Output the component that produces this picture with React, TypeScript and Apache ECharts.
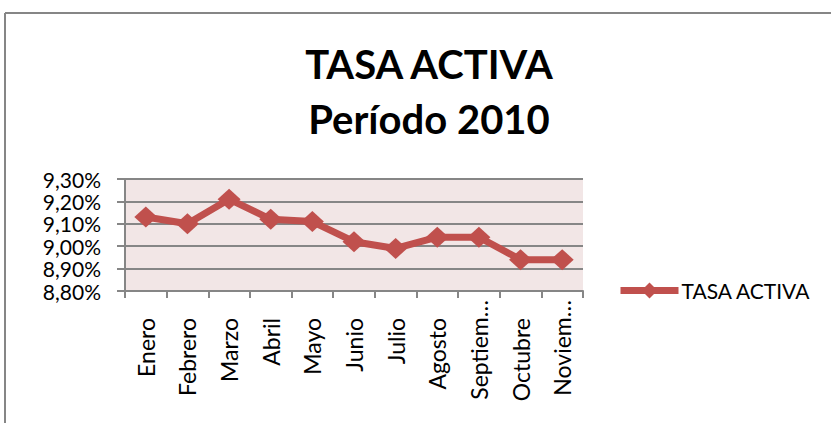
import React, { useEffect, useRef } from "react";
import * as echarts from "echarts";

const categories = ["Enero", "Febrero", "Marzo", "Abril", "Mayo", "Junio", "Julio", "Agosto", "Septiem…", "Octubre", "Noviem…"];
const tasaActiva = [9.13, 9.10, 9.21, 9.12, 9.11, 9.02, 8.99, 9.04, 9.04, 8.94, 8.94];
const seriesName = "TASA ACTIVA";
const titleLines = ["TASA ACTIVA", "Período 2010"];

const FONT = "Lato, 'Open Sans', sans-serif";

export default function App() {
  const ref = useRef<HTMLDivElement>(null);
  useEffect(() => {
    document.body.style.margin = "0";
    const chart = echarts.init(ref.current!, null, { renderer: "svg" });
    chart.setOption({
      animation: false,
      backgroundColor: "#ffffff",
      textStyle: { fontFamily: FONT },
      title: {
        text: titleLines.join("\n"),
        left: 424,
        textAlign: "center",
        top: 31,
        textStyle: { fontFamily: FONT, fontSize: 40, fontWeight: "bold", color: "#000", lineHeight: 55 },
      },
      legend: {
        data: [seriesName],
        left: 617,
        top: 280,
        padding: 0,
        itemWidth: 58,
        itemHeight: 20,
        itemGap: 4,
        lineStyle: { width: 7 },
        textStyle: { fontFamily: FONT, fontSize: 21, color: "#000", padding: [0, 0, 0, -2] },
      },
      grid: {
        left: 125,
        right: 248,
        top: 179,
        bottom: 132,
        show: true,
        backgroundColor: "#f2e6e6",
        borderWidth: 0,
      },
      xAxis: {
        type: "category",
        data: categories,
        boundaryGap: true,
        axisLine: { lineStyle: { color: "#868686", width: 2 } },
        axisTick: { show: true, length: 7, lineStyle: { color: "#868686", width: 2 } },
        axisLabel: {
          rotate: 90,
          margin: 9,
          interval: 0,
          fontSize: 23,
          color: "#000",
          fontFamily: FONT,
          formatter: (v: string) => (v.endsWith("…") ? `{t|${v}}` : `{n|${v}}`),
          rich: {
            n: { fontSize: 23, fontFamily: FONT, color: "#000", padding: [0, 18, 0, 0] },
            t: { fontSize: 23, fontFamily: FONT, color: "#000", padding: [0, 0, 0, 0] },
          },
        },
      },
      yAxis: {
        type: "value",
        min: 8.8,
        max: 9.3,
        interval: 0.1,
        axisLine: { show: true, lineStyle: { color: "#868686", width: 2 } },
        axisTick: { show: true, length: 8, lineStyle: { color: "#868686", width: 2 } },
        splitLine: { lineStyle: { color: "#868686", width: 2 } },
        axisLabel: {
          fontSize: 21,
          color: "#000",
          margin: 24,
          fontFamily: FONT,
          lineHeight: 20,
          formatter: (v: number) => v.toFixed(2).replace(".", ",") + "%",
        },
      },
      graphic: [
        { type: "line", shape: { x1: 5, y1: 13, x2: 831, y2: 13 }, style: { stroke: "#868686", lineWidth: 2 } },
        { type: "line", shape: { x1: 5, y1: 13, x2: 5, y2: 423 }, style: { stroke: "#868686", lineWidth: 2 } },
      ],
      series: [
        {
          name: seriesName,
          type: "line",
          data: tasaActiva,
          symbol: "diamond",
          symbolSize: [23, 21],
          lineStyle: { color: "#c0504d", width: 7 },
          itemStyle: { color: "#c0504d" },
        },
      ],
    });
    return () => chart.dispose();
  }, []);
  return <div ref={ref} style={{ position: "fixed", left: 0, top: 0, width: 831, height: 423 }} />;
}
